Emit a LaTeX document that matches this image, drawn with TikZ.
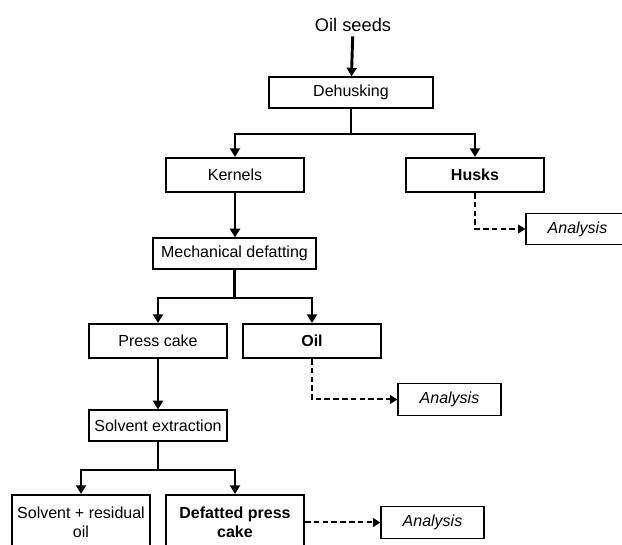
\documentclass[tikz,border=0pt]{standalone}
\usepackage{fontspec}
\setmainfont{Liberation Sans}
\usetikzlibrary{arrows.meta,
	positioning,
	calc}

\tikzset{
	box/.style={draw, line width=0.9pt, inner sep=0pt, align=center, font=\fontsize{12}{14.5}\selectfont},
	thinbox/.style={box, minimum height=23.25pt},
	boldbox/.style={box, line width=1.6pt, minimum width=103.5pt, minimum height=25.5pt},
	anabox/.style={box, minimum width=77.25pt, minimum height=23.5pt, font=\fontsize{12}{14.5}\selectfont\itshape},
	flow/.style={line width=2.2pt, -{Triangle[length=6.5pt,width=7.5pt]}},
	stem/.style={line width=2.2pt},
	dashflow/.style={line width=1.5pt, dash pattern=on 4.2pt off 2.4pt, -{Triangle[length=5.5pt,width=6.5pt]}}
}

\begin{document}
\begin{tikzpicture}[x=0.75pt,y=-0.75pt]
\useasboundingbox (0,0) rectangle (622,545);
\clip (0,0) rectangle (622,545);

\node (seeds) at (353,25) {\fontsize{13.7}{16}\selectfont Oil seeds};
\node[thinbox, minimum width=123pt] (dehusk) at (351,92.5) {Dehusking};
\node[boldbox] (kernels) at (235,175) {Kernels};
\node[boldbox, font=\fontsize{12}{14.5}\selectfont\bfseries] (husks) at (475,175) {Husks};
\node[anabox] (ana1) at (577.5,229) {Analysis};
\node[thinbox, minimum width=122.25pt] (mech) at (234.5,253.5) {Mechanical defatting};
\node[boldbox] (press) at (158,341) {Press cake};
\node[boldbox, font=\fontsize{12}{14.5}\selectfont\bfseries] (oil) at (312,341) {Oil};
\node[anabox] (ana2) at (449.5,399.5) {Analysis};
\node[thinbox, minimum width=103.5pt] (solv) at (158,425.5) {Solvent extraction};
\node[boldbox, minimum height=40.5pt] (resid) at (81,522) {Solvent + residual\\oil};
\node[boldbox, minimum height=40.5pt, font=\fontsize{12}{14.5}\selectfont\bfseries] (defat) at (235,522) {Defatted press\\cake};
\node[anabox] (ana3) at (432.5,522.5) {Analysis};

\coordinate (j1) at (351,134);
\coordinate (j2) at (234.5,298);
\coordinate (j3) at (158,470);

\draw[flow] (seeds) -- (dehusk);
\draw[stem] (dehusk) -- (j1);
\draw[flow] (j1) -| (kernels);
\draw[flow] (j1) -| (husks);
\draw[flow] (kernels) -- (mech.north -| kernels);
\draw[stem] (mech) -- (j2);
\draw[flow] (j2) -| (press);
\draw[flow] (j2) -| (oil);
\draw[flow] (press) -- (solv);
\draw[stem] (solv) -- (j3);
\draw[flow] (j3) -| (resid);
\draw[flow] (j3) -| (defat);

\draw[dashflow] (husks.south) |- (ana1.west);
\draw[dashflow] (oil.south) |- (ana2.west);
\draw[dashflow] (defat.east |- ana3.west) -- (ana3.west);
\end{tikzpicture}
\end{document}
